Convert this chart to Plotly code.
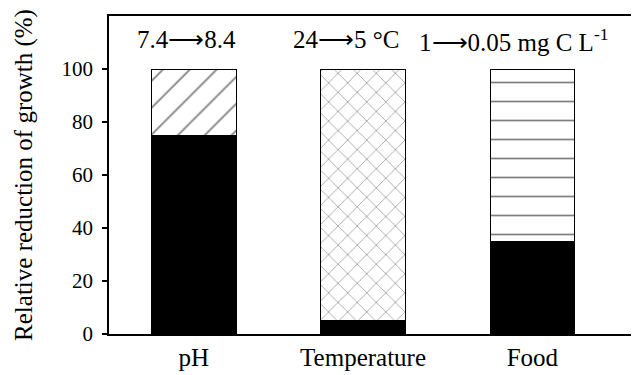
import plotly.graph_objects as go

categories = ["pH", "Temperature", "Food"]
black_part = [75, 5, 35]
rest_part = [25, 95, 65]
patterns = ["/", "x", "-"]
pattern_sizes = [19, 13.5, 19]
annotations_text = ["7.4⟶8.4", "24⟶5 °C", "1⟶0.05 mg C L<sup>-1</sup>"]
annot_x = [-0.04, -0.1, -0.11]
y_ticks = [0, 20, 40, 60, 80, 100]

FONT = "Liberation Serif, Times New Roman, serif"
xs = list(range(len(categories)))

fig = go.Figure()
fig.add_trace(go.Bar(
    x=xs, y=black_part, width=0.5,
    marker=dict(color="black", line=dict(color="black", width=1)),
    showlegend=False,
))
fig.add_trace(go.Bar(
    x=xs, y=rest_part, width=0.5,
    marker=dict(
        color="white",
        line=dict(color="black", width=1),
        pattern=dict(shape=patterns, fgcolor="black", bgcolor="white",
                     size=pattern_sizes, solidity=0.09),
    ),
    showlegend=False,
))

for i, t in enumerate(annotations_text):
    fig.add_annotation(x=xs[i] + annot_x[i], y=111, text=t, showarrow=False,
                       font=dict(family=FONT, size=25, color="black"),
                       xref="x", yref="y")

# page body has an 8px default margin, so the figure is 631x367 and offset
fig.update_layout(
    barmode="stack",
    width=631, height=367,
    margin=dict(l=101, r=5, t=8, b=41),
    paper_bgcolor="white", plot_bgcolor="white",
    font=dict(family=FONT, color="black"),
)
fig.update_xaxes(
    range=[-0.5, 2.6], tickmode="array", tickvals=xs, ticktext=categories,
    tickfont=dict(family=FONT, size=25, color="black"), ticks="", automargin=False,
    showline=True, mirror=True, linecolor="black", linewidth=1.5,
    showgrid=False, zeroline=False,
)
fig.update_yaxes(
    range=[0, 120], tickmode="array", tickvals=y_ticks,
    tickfont=dict(family=FONT, size=21, color="black"), ticks="outside", ticklen=5,
    tickcolor="black", tickwidth=1.5, automargin=False, ticklabelstandoff=5,
    title=dict(text="Relative reduction of growth (%)", font=dict(family=FONT, size=25, color="black"), standoff=22),
    showline=True, mirror=True, linecolor="black", linewidth=1.5,
    showgrid=False, zeroline=False,
)
fig.write_html("out.html")
